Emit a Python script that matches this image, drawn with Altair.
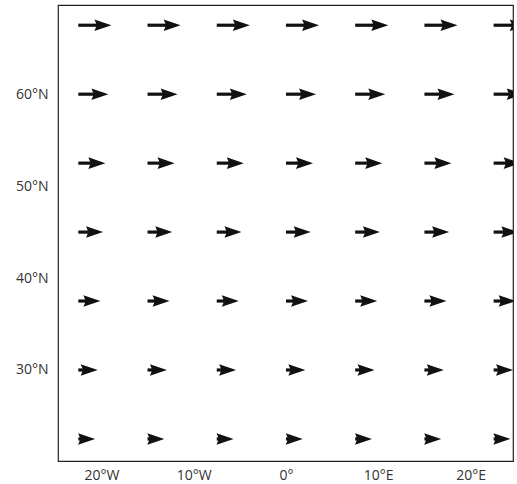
import altair as alt
import pandas as pd

# grid of arrow tails
lons = [-22.5, -15, -7.5, 0, 7.5, 15, 22.5]
lats = [67.5, 60, 52.5, 45, 37.5, 30, 22.5]
# eastward component per latitude row (arrow length, degrees of longitude)
u_by_row = [3.59, 3.26, 2.93, 2.68, 2.39, 2.10, 1.82]

x_ticks = [-20, -10, 0, 10, 20]
y_ticks = [30, 40, 50, 60]

rows = []
for lat, u in zip(lats, u_by_row):
    for lon in lons:
        rows.append({"lon": lon, "lat": lat, "tip": lon + u})
df = pd.DataFrame(rows)

xs = alt.Scale(domain=[-24.7, 24.6], nice=False, zero=False)
ys = alt.Scale(domain=[20.1, 69.7], nice=False, zero=False)

font = "Open Sans"
xaxis = alt.Axis(values=x_ticks, title=None, ticks=False, domain=False, grid=False,
                 labelPadding=7, labelFont=font, labelFontSize=14, labelColor="#333",
                 labelExpr="datum.value < 0 ? abs(datum.value) + '°W' : (datum.value > 0 ? datum.value + '°E' : '0°')")
yaxis = alt.Axis(values=y_ticks, title=None, ticks=False, domain=False, grid=False,
                 labelPadding=10, labelFont=font, labelFontSize=14, labelColor="#333",
                 labelExpr="datum.value + '°N'")

shaft = alt.Chart(df).mark_rule(color="#111", strokeWidth=3.2, clip=True, x2Offset=-10).encode(
    x=alt.X("lon:Q", scale=xs, axis=xaxis),
    x2="tip:Q",
    y=alt.Y("lat:Q", scale=ys, axis=yaxis),
)

# arrow head with its tip at the symbol origin
head_path = "M 0 0 L -2 -0.68 L -1.8 -0.19 L -1.8 0.19 L -2 0.68 Z"
head = alt.Chart(df).mark_point(shape=head_path, filled=True, color="#111", opacity=1,
                                clip=True, strokeWidth=0).encode(
    x=alt.X("tip:Q", scale=xs),
    y=alt.Y("lat:Q", scale=ys),
    size=alt.value(289),
)

chart = (shaft + head).properties(
    width=455, height=456,
    autosize=alt.AutoSizeParams(type="none"),
    padding={"left": 58, "top": 5, "right": 4, "bottom": 23},
).configure_view(stroke="#222", strokeWidth=1.2)

chart.save("out.html", embed_options={"renderer": "svg", "actions": False})
